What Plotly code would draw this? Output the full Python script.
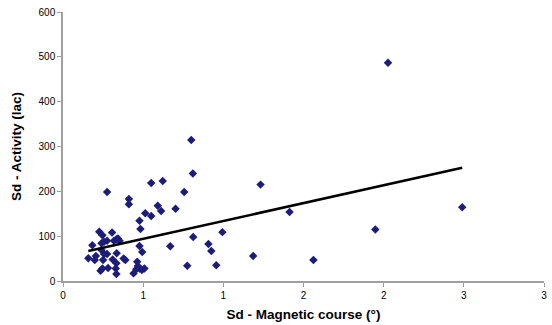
import numpy as np
import plotly.graph_objects as go

# Data
sd_course = [0.158, 0.183, 0.198, 0.205, 0.226, 0.246, 0.24, 0.256, 0.275, 0.24,
             0.256, 0.275, 0.25, 0.234, 0.246, 0.281, 0.275, 0.306, 0.318, 0.333,
             0.343, 0.353, 0.335, 0.31, 0.333, 0.329, 0.333, 0.378, 0.389, 0.411,
             0.411, 0.463, 0.467, 0.44, 0.457, 0.477, 0.483, 0.477, 0.494, 0.477,
             0.492, 0.508, 0.513, 0.55, 0.55, 0.591, 0.612, 0.622, 0.669, 0.702,
             0.756, 0.775, 0.81, 0.80, 0.812, 0.907, 0.925, 0.956, 0.994, 1.186,
             1.232, 1.413, 1.562, 1.948, 2.027, 2.49]
sd_activity = [50.6, 79.6, 46.8, 55.8, 110, 102, 84, 87.7, 90, 69,
               60, 60, 47, 23, 28, 29, 198.5, 108, 90, 93,
               95, 90, 62, 48, 39.5, 28, 15.6, 50, 47, 183,
               171, 43, 33.5, 17, 26, 134.5, 116, 78, 64.7, 28,
               24.5, 28, 151, 145, 218.6, 168, 156, 223, 77.4, 161,
               198.5, 34, 240, 314.5, 98, 82.5, 67, 35, 109, 55.8,
               215, 154, 47, 115, 487, 164.5]

x_tickvals = [0, 0.5, 1, 1.5, 2, 2.5, 3]
x_ticktext = ["0", "1", "1", "2", "2", "3", "3"]
y_tickvals = [0, 100, 200, 300, 400, 500, 600]

x = np.array(sd_course)
y = np.array(sd_activity)
slope, intercept = np.polyfit(x, y, 1)
x_line = np.array([x.min(), x.max()])
y_line = intercept + slope * x_line

fig = go.Figure()
fig.add_trace(go.Scatter(
    x=sd_course, y=sd_activity, mode="markers",
    marker=dict(symbol="diamond", size=6.5, color="#1c1c7a"),
    showlegend=False, hoverinfo="skip"))
fig.add_trace(go.Scatter(
    x=x_line, y=y_line, mode="lines",
    line=dict(color="black", width=2.5),
    showlegend=False, hoverinfo="skip"))

axis_common = dict(showgrid=False, zeroline=False, showline=True,
                   linecolor="#a0a0a0", linewidth=1.5,
                   ticks="outside", ticklen=4, tickcolor="#a0a0a0",
                   tickfont=dict(family="Liberation Sans, Arial", size=10, color="black"))

fig.update_layout(
    width=552, height=325,
    margin=dict(l=63, r=5, t=12, b=44),
    paper_bgcolor="white", plot_bgcolor="white",
    xaxis=dict(range=[0, 3], tickvals=x_tickvals, ticktext=x_ticktext,
               title=dict(text="<b>Sd - Magnetic course (°)</b>", standoff=10,
                          font=dict(family="Liberation Sans, Arial", size=13.5, color="black")),
               **axis_common),
    yaxis=dict(range=[0, 600], tickvals=y_tickvals,
               title=dict(text="<b>Sd - Activity (lac)</b>", standoff=14,
                          font=dict(family="Liberation Sans, Arial", size=13.5, color="black")),
               **axis_common),
)

fig.write_html("out.html")
